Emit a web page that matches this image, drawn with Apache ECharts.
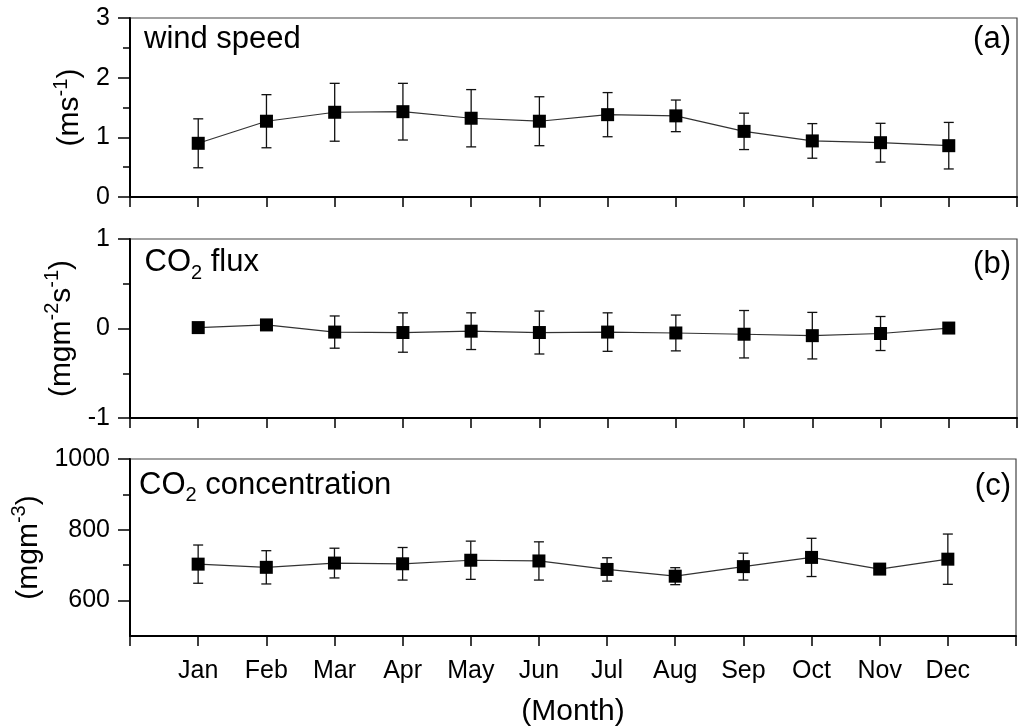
<!DOCTYPE html>
<html><head><meta charset="utf-8">
<script src="https://cdn.jsdelivr.net/npm/echarts@6/dist/echarts.min.js"></script>
<style>html,body{margin:0;padding:0;background:#fff}#c{width:1019px;height:728px}</style>
</head><body><div id="c"></div>
<script>
const months = ['Jan','Feb','Mar','Apr','May','Jun','Jul','Aug','Sep','Oct','Nov','Dec'];
const windMean = [0.90,1.27,1.42,1.43,1.32,1.27,1.38,1.36,1.10,0.94,0.91,0.86];
const windErr  = [0.41,0.445,0.485,0.475,0.48,0.41,0.37,0.265,0.305,0.29,0.325,0.39];
const fluxMean = [0.01,0.04,-0.04,-0.045,-0.03,-0.045,-0.04,-0.05,-0.064,-0.08,-0.056,0.005];
const fluxErr  = [0,0,0.18,0.22,0.205,0.24,0.215,0.20,0.265,0.26,0.19,0];
const concMean = [703,694,706,704,714,712,688,669,696,722,689,717];
const concErr  = [54,47,42,46,54,54,33,24,38,54,9,71];
const yTicksA = [0,1,2,3],  yMinorA = [0.5,1.5,2.5];
const yTicksB = [-1,0,1],   yMinorB = [-0.5,0.5];
const yTicksC = [600,800,1000], yMinorC = [700,900];

const FONT = '"Liberation Sans", Arial, sans-serif';
const chart = echarts.init(document.getElementById('c'), null, {renderer:'canvas'});

const panels = [
  {mean: windMean, err: windErr, min:0, max:3, ticks:yTicksA, minor:yMinorA,
   name:'(ms{sup|-1})', gap:31, top:18},
  {mean: fluxMean, err: fluxErr, min:-1, max:1, ticks:yTicksB, minor:yMinorB,
   name:'(mgm{sup|-2}s{sup|-1})', gap:41, top:239},
  {mean: concMean, err: concErr, min:500, max:1000, ticks:yTicksC, minor:yMinorC,
   name:'(mgm{sup|-3})', gap:73, top:459}
];

function errRender(params, api){
  const x = api.value(0), y = api.value(1), e = api.value(2);
  if (!e) return null;
  const hi = api.coord([x, y + e]), lo = api.coord([x, y - e]);
  const w = 5;
  const st = {stroke:'#111', lineWidth:1.3};
  return {type:'group', children:[
    {type:'line', shape:{x1:hi[0], y1:hi[1], x2:lo[0], y2:lo[1]}, style:st},
    {type:'line', shape:{x1:hi[0]-w, y1:hi[1], x2:hi[0]+w, y2:hi[1]}, style:st},
    {type:'line', shape:{x1:lo[0]-w, y1:lo[1], x2:lo[0]+w, y2:lo[1]}, style:st}
  ]};
}

const grid = [], xAxis = [], yAxis = [], yMinorAxes = [], series = [];
panels.forEach((p, i) => {
  grid.push({left:130, right:2, top:p.top, height:179, show:true,
             borderColor:'#444', borderWidth:1.2, backgroundColor:'transparent'});
  xAxis.push({
    type:'value', gridIndex:i, min:0, max:13, interval:1,
    axisLine:{show:true, onZero:false, lineStyle:{color:'#000', width:2}},
    axisTick:{show:true, length:10, lineStyle:{color:'#000', width:1.5}},
    axisLabel:{show: i === 2, margin:23, fontSize:25, color:'#000', fontFamily:FONT,
               formatter: v => months[v-1] || ''},
    splitLine:{show:false},
    name: i === 2 ? '(Month)' : '', nameLocation:'middle', nameGap:61,
    nameTextStyle:{fontSize:30, color:'#000', fontFamily:FONT}
  });
  yAxis.push({
    type:'value', gridIndex:i, min:p.min, max:p.max, position:'left',
    axisLine:{show:true, onZero:false, lineStyle:{color:'#000', width:2}},
    axisTick:{show:true, length:12, customValues:p.ticks, lineStyle:{color:'#000', width:1.5}},
    axisLabel:{show:true, customValues:p.ticks, margin:20, fontSize:25, color:'#000', fontFamily:FONT,
               formatter: v => String(v)},
    splitLine:{show:false},
    name:p.name, nameLocation:'middle', nameGap:p.gap,
    nameTextStyle:{fontSize:30, color:'#000', fontFamily:FONT,
      rich:{sup:{fontSize:20, color:'#000', fontFamily:FONT, verticalAlign:'top', lineHeight:10, padding:[-4,0,0,0]}}}
  });
  yMinorAxes.push({
    type:'value', gridIndex:i, min:p.min, max:p.max, position:'left',
    axisLine:{show:false},
    axisTick:{show:true, length:7, customValues:p.minor, lineStyle:{color:'#000', width:1.5}},
    axisLabel:{show:false}, splitLine:{show:false}
  });
  series.push({
    type:'custom', xAxisIndex:i, yAxisIndex:i, renderItem:errRender, clip:false,
    encode:{x:0, y:1}, z:2,
    data: p.mean.map((m, k) => [k + 1, m, p.err[k]])
  });
  series.push({
    type:'line', xAxisIndex:i, yAxisIndex:i, symbol:'rect', symbolSize:13,
    itemStyle:{color:'#000'}, lineStyle:{color:'#333', width:1.2}, z:3,
    data: p.mean.map((m, k) => [k + 1, m])
  });
});

const subRich = {sub:{fontSize:20, color:'#000', fontFamily:FONT, verticalAlign:'top', lineHeight:10, padding:[16,0,0,0]}};
const tstyle = {fontSize:31, fontWeight:'normal', color:'#000', fontFamily:FONT, rich:subRich};
const title = [
  {text:'wind speed', left:144, top:24, padding:0, textStyle:tstyle},
  {text:'CO{sub|2} flux', left:144.5, top:247, padding:0, textStyle:tstyle},
  {text:'CO{sub|2} concentration', left:139, top:469.5, padding:0, textStyle:tstyle},
  {text:'(a)', right:8, top:23.5, padding:0, textStyle:tstyle},
  {text:'(b)', right:8, top:248.5, padding:0, textStyle:tstyle},
  {text:'(c)', right:8, top:470.5, padding:0, textStyle:tstyle}
];

chart.setOption({
  animation:false,
  backgroundColor:'#fff',
  title, grid, xAxis,
  yAxis: yAxis.concat(yMinorAxes),
  series
});
</script></body></html>
